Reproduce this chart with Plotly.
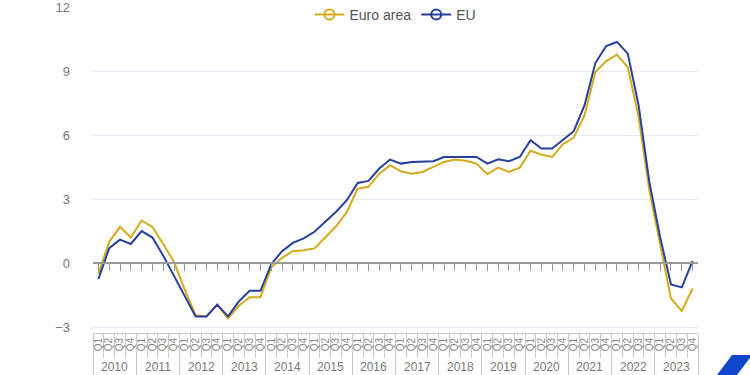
import plotly.graph_objects as go

years = [str(y) for y in range(2010, 2024)]
quarters = ["Q1", "Q2", "Q3", "Q4"]

euro_area = [-0.5, 1.0, 1.7, 1.2, 2.0, 1.7, 0.9, 0.05, -1.25, -2.45, -2.5, -1.95,
             -2.6, -2.0, -1.6, -1.6, -0.2, 0.25, 0.56, 0.6, 0.69, 1.2, 1.73, 2.4,
             3.5, 3.58, 4.2, 4.6, 4.31, 4.2, 4.28, 4.52, 4.75, 4.86, 4.8, 4.67,
             4.17, 4.48, 4.28, 4.48, 5.27, 5.09, 4.98, 5.58, 5.89, 6.94, 8.97, 9.48,
             9.78, 9.2, 6.86, 3.4, 0.9, -1.66, -2.25, -1.19]
eu = [-0.75, 0.7, 1.1, 0.9, 1.5, 1.2, 0.35, -0.6, -1.5, -2.5, -2.5, -1.95,
      -2.5, -1.8, -1.3, -1.3, -0.05, 0.56, 0.95, 1.16, 1.47, 1.94, 2.41, 2.95,
      3.76, 3.86, 4.44, 4.86, 4.67, 4.75, 4.75, 4.78, 4.98, 4.98, 4.98, 4.98,
      4.67, 4.87, 4.78, 4.98, 5.77, 5.38, 5.38, 5.77, 6.19, 7.41, 9.39, 10.19,
      10.38, 9.83, 7.41, 3.8, 1.2, -1.0, -1.14, 0.11]

flat_labels = [y + " " + q for y in years for q in quarters]
q_text = [q for y in years for q in quarters]
n = len(flat_labels)
nq = len(quarters)

EA_COLOR = "#D5AA1C"
EU_COLOR = "#27409A"
FONT = "Arial, Liberation Sans, sans-serif"
BOX = "#C8C8C8"

W, H = 750, 375
ML, MR, MT, MB = 93, 52, 7, 42
YMIN, YMAX = -3.28, 12.02
plot_w = W - ML - MR
plot_h = H - MT - MB


def px_to_paper(px, py):
    return (px - ML) / plot_w, (H - MB - py) / plot_h


fig = go.Figure()

fig.add_trace(go.Scatter(x=flat_labels, y=euro_area, mode="lines",
                         line=dict(color=EA_COLOR, width=2), name="Euro area",
                         showlegend=False))
fig.add_trace(go.Scatter(x=flat_labels, y=eu, mode="lines",
                         line=dict(color=EU_COLOR, width=2), name="EU",
                         showlegend=False))
# legend entries
for nm, col in [("Euro area", EA_COLOR), ("EU", EU_COLOR)]:
    fig.add_trace(go.Scatter(x=[None], y=[None], mode="lines+markers", name=nm,
                             line=dict(color=col, width=2),
                             marker=dict(symbol="circle-open", size=10, color=col,
                                         line=dict(width=2))))
# carriers for helper axes (invisible)
idx = list(range(n))
for ax in ["x2", "x3"]:
    fig.add_trace(go.Scatter(x=idx, y=[0] * n, mode="lines",
                             line=dict(color="rgba(0,0,0,0)", width=0), xaxis=ax,
                             showlegend=False, hoverinfo="skip"))

year_ticks = [i * nq - 0.5 for i in range(len(years) + 1)]
annotations = []
_, y_lab = px_to_paper(0, 367)
for i, yr in enumerate(years):
    annotations.append(dict(x=i * nq + (nq - 1) / 2, xref="x3", y=y_lab, yref="paper",
                            text=yr, showarrow=False, yanchor="middle",
                            font=dict(size=12, color="#777", family=FONT)))

logo_px = [(717, 375), (732, 355), (752, 355), (737, 375)]
pts = [px_to_paper(a, b) for a, b in logo_px]
path = "M " + " L ".join(f"{a:.4f},{b:.4f}" for a, b in pts) + " Z"

fig.update_layout(
    width=W, height=H,
    margin=dict(l=ML, r=MR, t=MT, b=MB, autoexpand=False),
    paper_bgcolor="white", plot_bgcolor="white",
    font=dict(family=FONT, color="#666"),
    showlegend=True,
    legend=dict(orientation="h", x=0.5, xanchor="center", y=1.025, yanchor="top",
                font=dict(size=14, color="#555"), bgcolor="rgba(0,0,0,0)",
                itemwidth=30),
    xaxis=dict(type="category", range=[-0.5, n - 0.5], showgrid=False,
               showline=True, linecolor=BOX, linewidth=1,
               tickmode="array", tickvals=flat_labels, ticktext=q_text,
               ticks="outside", ticklen=24, tickcolor=BOX, tickson="boundaries",
               tickangle=-90, tickfont=dict(size=10, color="#888"),
               automargin=False, zeroline=False),
    xaxis2=dict(type="linear", overlaying="x", anchor="free",
                position=(0 - YMIN) / (YMAX - YMIN), range=[-0.5, n - 0.5],
                tickmode="array", tickvals=idx,
                showline=True, linecolor="#999", linewidth=1.5,
                ticks="outside", ticklen=7, tickcolor="#999", tickwidth=1,
                showticklabels=False, showgrid=False, zeroline=False),
    xaxis3=dict(type="linear", overlaying="x", anchor="y", side="bottom",
                range=[-0.5, n - 0.5], tickmode="array", tickvals=year_ticks,
                ticks="outside", ticklen=45, tickcolor=BOX, tickwidth=1,
                showline=False, showticklabels=False, showgrid=False,
                zeroline=False),
    yaxis=dict(range=[YMIN, YMAX], tickvals=[-3, 0, 3, 6, 9, 12],
               gridcolor="#E8EAF3", gridwidth=1, zeroline=False, showline=False,
               tickfont=dict(size=13, color="#777"), ticklabelstandoff=22,
               ticklabeloverflow="allow", automargin=False),
    annotations=annotations,
    shapes=[dict(type="path", xref="paper", yref="paper", path=path,
                 fillcolor="#0E47CB", line=dict(width=0), layer="above")],
)

fig.write_html("out.html", config={"displayModeBar": False},
               post_script="document.body.style.margin='0';"
                           "document.body.style.overflow='hidden';")
